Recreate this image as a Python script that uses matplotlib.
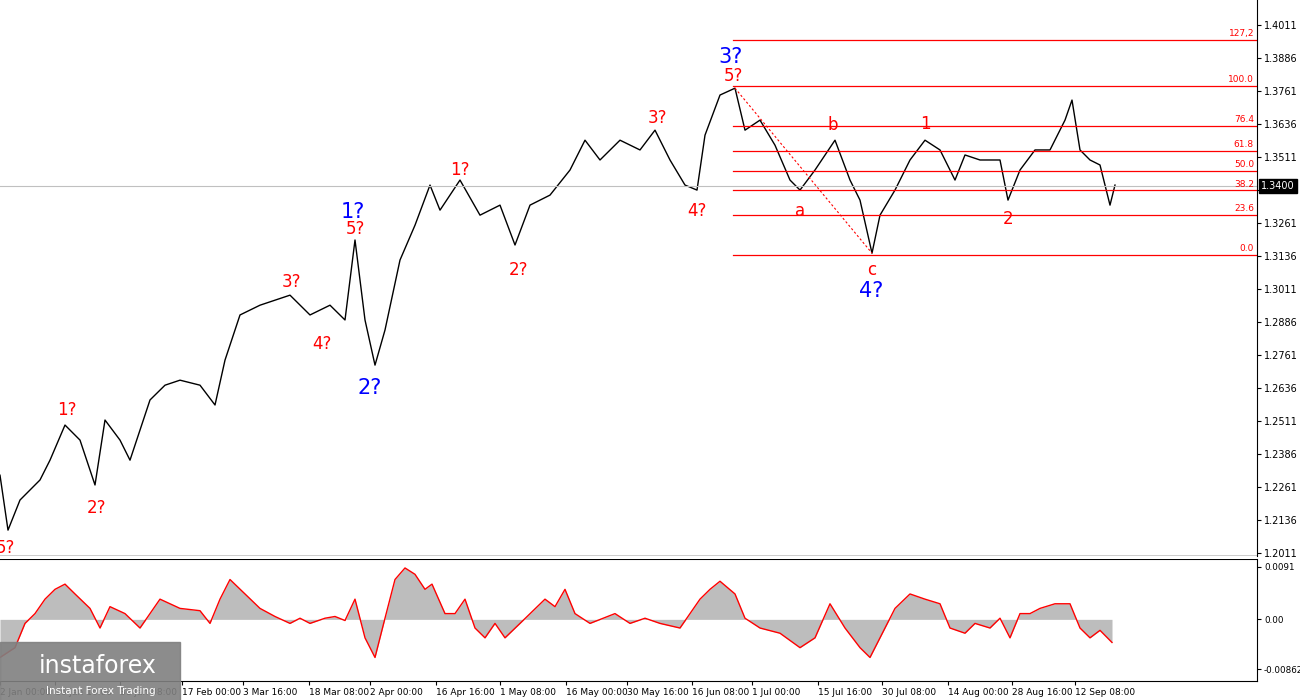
import matplotlib.pyplot as plt
from matplotlib.patches import Rectangle

# price path (bar index, close)
price_x = [0, 8, 20, 40, 50, 65, 80, 95, 105, 120, 130, 150, 165, 180, 200, 215, 225, 240, 260, 290,
           310, 330, 345, 355, 365, 375, 385, 400, 415, 430, 440, 460, 480, 500, 515, 530, 550, 570, 585, 600,
           620, 640, 655, 670, 685, 697, 705, 720, 735, 745, 760, 775, 790, 800, 815, 835, 850, 860, 872, 880,
           895, 910, 925, 940, 955, 965, 980, 1000, 1008, 1020, 1035, 1050, 1065, 1072, 1080, 1090, 1100, 1110, 1115]
price_y = [1.2306, 1.2098, 1.2212, 1.2288, 1.2363, 1.2496, 1.2439, 1.2269, 1.2515, 1.2439, 1.2363, 1.2591, 1.2647,
           1.2666, 1.2647, 1.2572, 1.2742, 1.2913, 1.2950, 1.2988, 1.2913, 1.2950, 1.2894, 1.3197, 1.2894, 1.2723,
           1.2856, 1.3121, 1.3253, 1.3405, 1.3310, 1.3424, 1.3291, 1.3329, 1.3178, 1.3329, 1.3367, 1.3462, 1.3575,
           1.3500, 1.3575, 1.3538, 1.3613, 1.3500, 1.3405, 1.3386, 1.3594, 1.3746, 1.3772, 1.3613, 1.3651, 1.3556,
           1.3424, 1.3386, 1.3462, 1.3575, 1.3424, 1.3348, 1.3147, 1.3291, 1.3386, 1.3500, 1.3575, 1.3538, 1.3424,
           1.3519, 1.3500, 1.3500, 1.3348, 1.3462, 1.3538, 1.3538, 1.3651, 1.3727, 1.3538, 1.3500, 1.3481, 1.3329, 1.3405]

osc_x = [0, 15, 25, 35, 45, 55, 65, 75, 90, 100, 110, 125, 140, 160, 170, 180, 200, 210, 220, 230, 245, 260, 275,
         290, 300, 310, 325, 335, 345, 355, 365, 375, 385, 395, 405, 415, 425, 432, 445, 455, 465, 475, 485, 495,
         505, 520, 545, 555, 565, 575, 590, 615, 630, 645, 660, 680, 700, 710, 720, 735, 745, 760, 780, 800, 815,
         830, 845, 860, 870, 880, 895, 910, 925, 940, 950, 965, 975, 990, 1000, 1010, 1020, 1030, 1040, 1055,
         1070, 1080, 1090, 1100, 1112]
osc_y = [-0.0066, -0.0049, -0.0007, 0.0010, 0.0035, 0.0052, 0.0061, 0.0044, 0.0019, -0.0015, 0.0022, 0.0010,
         -0.0015, 0.0035, 0.0027, 0.0019, 0.0015, -0.0007, 0.0035, 0.0069, 0.0044, 0.0019, 0.0005, -0.0007, 0.0002,
         -0.0007, 0.0002, 0.0005, -0.0002, 0.0035, -0.0032, -0.0066, 0.0002, 0.0069, 0.0089, 0.0078, 0.0052, 0.0061,
         0.0010, 0.0010, 0.0035, -0.0015, -0.0032, -0.0007, -0.0032, -0.0007, 0.0035, 0.0022, 0.0052, 0.0010,
         -0.0007, 0.0010, -0.0007, 0.0002, -0.0007, -0.0015, 0.0035, 0.0052, 0.0066, 0.0044, 0.0002, -0.0015,
         -0.0024, -0.0049, -0.0032, 0.0027, -0.0015, -0.0049, -0.0066, -0.0032, 0.0019, 0.0044, 0.0035, 0.0027,
         -0.0015, -0.0024, -0.0007, -0.0015, 0.0002, -0.0032, 0.0010, 0.0010, 0.0019, 0.0027, 0.0027, -0.0015,
         -0.0032, -0.0019, -0.0040]

price_ticks = [1.2011, 1.2136, 1.2261, 1.2386, 1.2511, 1.2636, 1.2761, 1.2886, 1.3011, 1.3136, 1.3261,
               1.3386, 1.3511, 1.3636, 1.3761, 1.3886, 1.4011]
osc_ticks = [0.0091, 0.0, -0.00862]
date_pos = [0, 55, 120, 182, 243, 309, 370, 436, 500, 566, 627, 692, 752, 818, 882, 948, 1012, 1075]
date_labels = ["2 Jan 00:00", "16 Jan 16:00", "31 Jan 08:00", "17 Feb 00:00", "3 Mar 16:00", "18 Mar 08:00",
               "2 Apr 00:00", "16 Apr 16:00", "1 May 08:00", "16 May 00:00", "30 May 16:00", "16 Jun 08:00",
               "1 Jul 00:00", "15 Jul 16:00", "30 Jul 08:00", "14 Aug 00:00", "28 Aug 16:00", "12 Sep 08:00"]

fib_low, fib_high = 1.3140, 1.3780
fib_levels = [0.0, 23.6, 38.2, 50.0, 61.8, 76.4, 100.0, 127.2]
last_price = 1.3400

# wave labels: x, pixel y, text, colour
waves = [(5, 548, "5?", "r"), (67, 410, "1?", "r"), (97, 508, "2?", "r"), (291, 282, "3?", "r"),
         (322, 344, "4?", "r"), (353, 212, "1?", "b"), (355, 229, "5?", "r"), (370, 388, "2?", "b"),
         (460, 170, "1?", "r"), (518, 270, "2?", "r"), (657, 118, "3?", "r"), (697, 211, "4?", "r"),
         (731, 57, "3?", "b"), (733, 76, "5?", "r"), (800, 211, "a", "r"), (833, 125, "b", "r"),
         (872, 270, "c", "r"), (871, 291, "4?", "b"), (925, 124, "1", "r"), (1008, 219, "2", "r")]


def px2price(py):
    return 1.2011 + (553 - py) * 0.0003788


fig = plt.figure(figsize=(13, 7), dpi=100)
ax = fig.add_axes([0, 144 / 700, 1257 / 1300, 556 / 700])
ax2 = fig.add_axes([0, 19 / 700, 1257 / 1300, 122 / 700])

for a in (ax, ax2):
    a.set_xlim(0, 1257)
    a.yaxis.tick_right()
    a.tick_params(labelsize=7, length=3, direction="out", pad=2)
    for s in ("top", "left", "bottom"):
        a.spines[s].set_visible(False)

ax.set_ylim(1.2000, 1.4106)
ax.set_yticks(price_ticks)
ax.set_yticklabels([f"{t:.4f}" for t in price_ticks])
ax.set_xticks([])
ax.axhline(1.2000, color="black", lw=1)

ax.plot(price_x, price_y, color="black", lw=1)
ax.axhline(last_price, color="#c0c0c0", lw=0.8)
ax.text(1261, last_price, f"{last_price:.4f}", fontsize=7, color="white", va="center",
        bbox=dict(fc="black", ec="black", pad=1.5), clip_on=False, zorder=10)

for lv in fib_levels:
    y = fib_low + (fib_high - fib_low) * lv / 100
    ax.plot([733, 1257], [y, y], color="red", lw=0.9)
    ax.text(1254, y + 0.0007, f"{lv:.1f}".replace("127.2", "127,2"), color="red", fontsize=6.5,
            ha="right", va="bottom")
ax.plot([735, 872], [1.3772, 1.3147], color="red", lw=0.8, ls=(0, (2, 2)))

for x, py, t, c in waves:
    if c == "b":
        ax.text(x, px2price(py), t, color="blue", fontsize=15, ha="center", va="center")
    else:
        ax.text(x, px2price(py), t, color="red", fontsize=12, ha="center", va="center")

ax2.set_ylim(-0.01067, 0.01045)
ax2.set_yticks(osc_ticks)
ax2.set_yticklabels(["0.0091", "0.00", "-0.00862"], fontsize=6.3)
ax2.fill_between(osc_x, osc_y, 0, color="#bdbdbd", lw=0)
ax2.plot(osc_x, osc_y, color="red", lw=1)
ax2.axhline(0.01045, color="black", lw=1.5)
ax2.spines["bottom"].set_visible(True)
ax2.set_xticks(date_pos)
ax2.set_xticklabels(date_labels, fontsize=6.5)
for lab in ax2.get_xticklabels():
    lab.set_horizontalalignment("left")

ax2.add_patch(Rectangle((0, -0.3), 180 / 1257, 0.62, transform=ax2.transAxes, color="#808080", alpha=0.9,
                        clip_on=False, zorder=5))
fig.text(0.03, 0.038, "instaforex", fontsize=17, color="white", zorder=6)
fig.text(0.035, 0.008, "Instant Forex Trading", fontsize=7.5, color="white", zorder=6)

fig.savefig("out.png", dpi=100)
